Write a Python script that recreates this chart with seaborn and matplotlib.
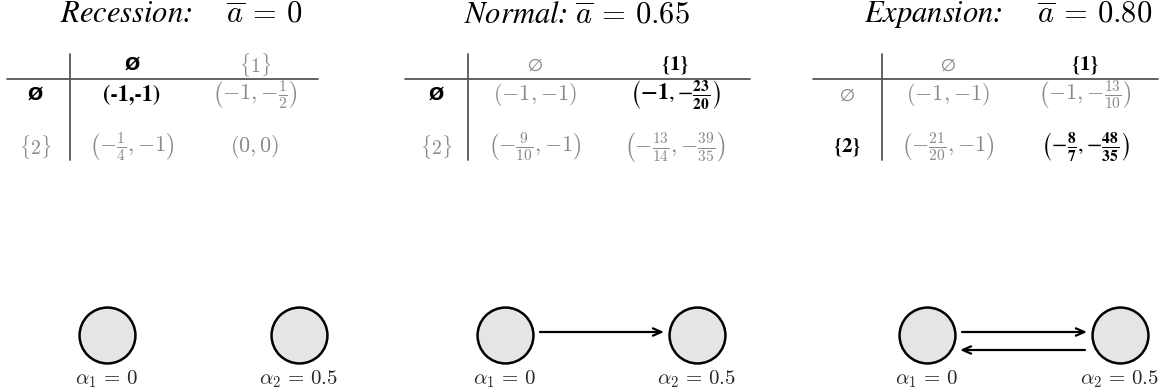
import matplotlib
matplotlib.use('Agg')
import matplotlib.pyplot as plt
import seaborn as sns

# regimes
regimes = ['Recession', 'Normal', 'Expansion']
abar_values = ['0', '0.65', '0.80']
title_gaps = [r'\quad', r'', r'\quad']

# table headers (column = player 1 strategy, row = player 2 strategy)
col_headers = [r'$\varnothing$', r'$\{1\}$']
row_headers = [r'$\varnothing$', r'$\{2\}$']

# payoffs per regime, row-major
payoffs = [
    ['(-1,-1)', r'$\left(-1,{-\frac{1}{2}}\right)$',
     r'$\left(-\frac{1}{4},{-1}\right)$', r'$(0,0)$'],
    [r'$(-1,{-1})$', r'$\left(\mathbf{-1},{-\frac{\mathbf{23}}{\mathbf{20}}}\right)$',
     r'$\left(-\frac{9}{10},{-1}\right)$', r'$\left(-\frac{13}{14},{-\frac{39}{35}}\right)$'],
    [r'$(-1,{-1})$', r'$\left(-1,{-\frac{13}{10}}\right)$',
     r'$\left(-\frac{21}{20},{-1}\right)$', r'$\left(-\frac{\mathbf{8}}{\mathbf{7}},{-\frac{\mathbf{48}}{\mathbf{35}}}\right)$'],
]
# equilibrium (row, col) per regime
equilibria = [(0, 0), (0, 1), (1, 1)]

# graph nodes and edges
node_labels = [r'$\alpha_1\,=\,0$', r'$\alpha_2\,=\,0.5$']
edges = [[], [(0, 1)], [(0, 1), (1, 0)]]

# layout (pixels)
W, H = 1169, 390
title_x = [181, 577, 1008]
vline_x = [70, 468, 882]
hline_span = [(7, 318), (405, 750), (813, 1158)]
col_x = [(132, 255), (535, 675), (948, 1085)]
row_x = [35, 436, 847]
header_y, row_y = 65, (95, 147)
node_x = [(107, 299), (505, 697), (927, 1120)]
node_y, label_y, r_node = 335, 379, 29

GRAY = '#8a8a8a'
RULE = '#555555'

sns.set_theme(style='white')
plt.rcParams['mathtext.fontset'] = 'cm'
plt.rcParams['font.family'] = ['STIXGeneral', 'DejaVu Serif']

fig = plt.figure(figsize=(W / 100, H / 100), dpi=100)
ax = fig.add_axes([0, 0, 1, 1])
ax.set_xlim(0, W)
ax.set_ylim(H, 0)
ax.axis('off')

bold_empty = dict(family='DejaVu Sans', fontweight='bold', fontsize=13)
bold_math = dict(math_fontfamily='stix', color='black')

for p in range(3):
    ax.text(title_x[p], 15, regimes[p] + ':' + ' $' + title_gaps[p] + r'\overline{a}\,=\,' + abar_values[p] + '$',
            family='STIXGeneral', style='italic', fontsize=22, ha='center', va='center', color='black')

    # rules
    ax.plot([vline_x[p], vline_x[p]], [54, 160], color=RULE, lw=1.3)
    ax.plot(list(hline_span[p]), [79, 79], color=RULE, lw=1.3)

    er, ec = equilibria[p]
    # column headers
    for c in range(2):
        if c == ec:
            if c == 0:
                ax.text(col_x[p][c], header_y, '\u00d8', ha='center', va='center', color='black', **bold_empty)
            else:
                ax.text(col_x[p][c], header_y, r'$\mathbf{\{1\}}$', ha='center', va='center', fontsize=15, **bold_math)
        else:
            ax.text(col_x[p][c], header_y, col_headers[c], ha='center', va='center', fontsize=14, color=GRAY)
    # row headers
    for r in range(2):
        if r == er:
            if r == 0:
                ax.text(row_x[p], row_y[r], '\u00d8', ha='center', va='center', color='black', **bold_empty)
            else:
                ax.text(row_x[p], row_y[r], r'$\mathbf{\{2\}}$', ha='center', va='center', fontsize=15, **bold_math)
        else:
            ax.text(row_x[p], row_y[r], row_headers[r], ha='center', va='center', fontsize=14, color=GRAY)
    # cells
    for r in range(2):
        for c in range(2):
            s = payoffs[p][2 * r + c]
            eq = (r, c) == (er, ec)
            kw = dict(ha='center', va='center', fontsize=16, color=GRAY)
            if eq:
                kw.update(bold_math)
            if not s.startswith('$'):
                kw.update(family='STIXGeneral', fontweight='bold', fontsize=16)
            ax.text(col_x[p][c], row_y[r], s, **kw)

    # graph
    sns.scatterplot(x=list(node_x[p]), y=[node_y, node_y], s=1620, color='#e5e5e5',
                    edgecolor='black', linewidth=1.8, ax=ax, zorder=3, legend=False)
    for i in range(2):
        ax.text(node_x[p][i], label_y, node_labels[i], ha='center', va='center', fontsize=15)
    for a, b in edges[p]:
        y = node_y - 3 if a < b else node_y + 15
        xa, xb = node_x[p][a], node_x[p][b]
        d = 1 if xb > xa else -1
        start = xa + d * (r_node + 6)
        end = xb - d * (r_node + 4)
        ax.annotate('', xy=(end, y), xytext=(start, y),
                    arrowprops=dict(arrowstyle='->,head_length=0.5,head_width=0.22',
                                    color='black', lw=1.6, shrinkA=0, shrinkB=0))

fig.savefig('out.png', dpi=100)
